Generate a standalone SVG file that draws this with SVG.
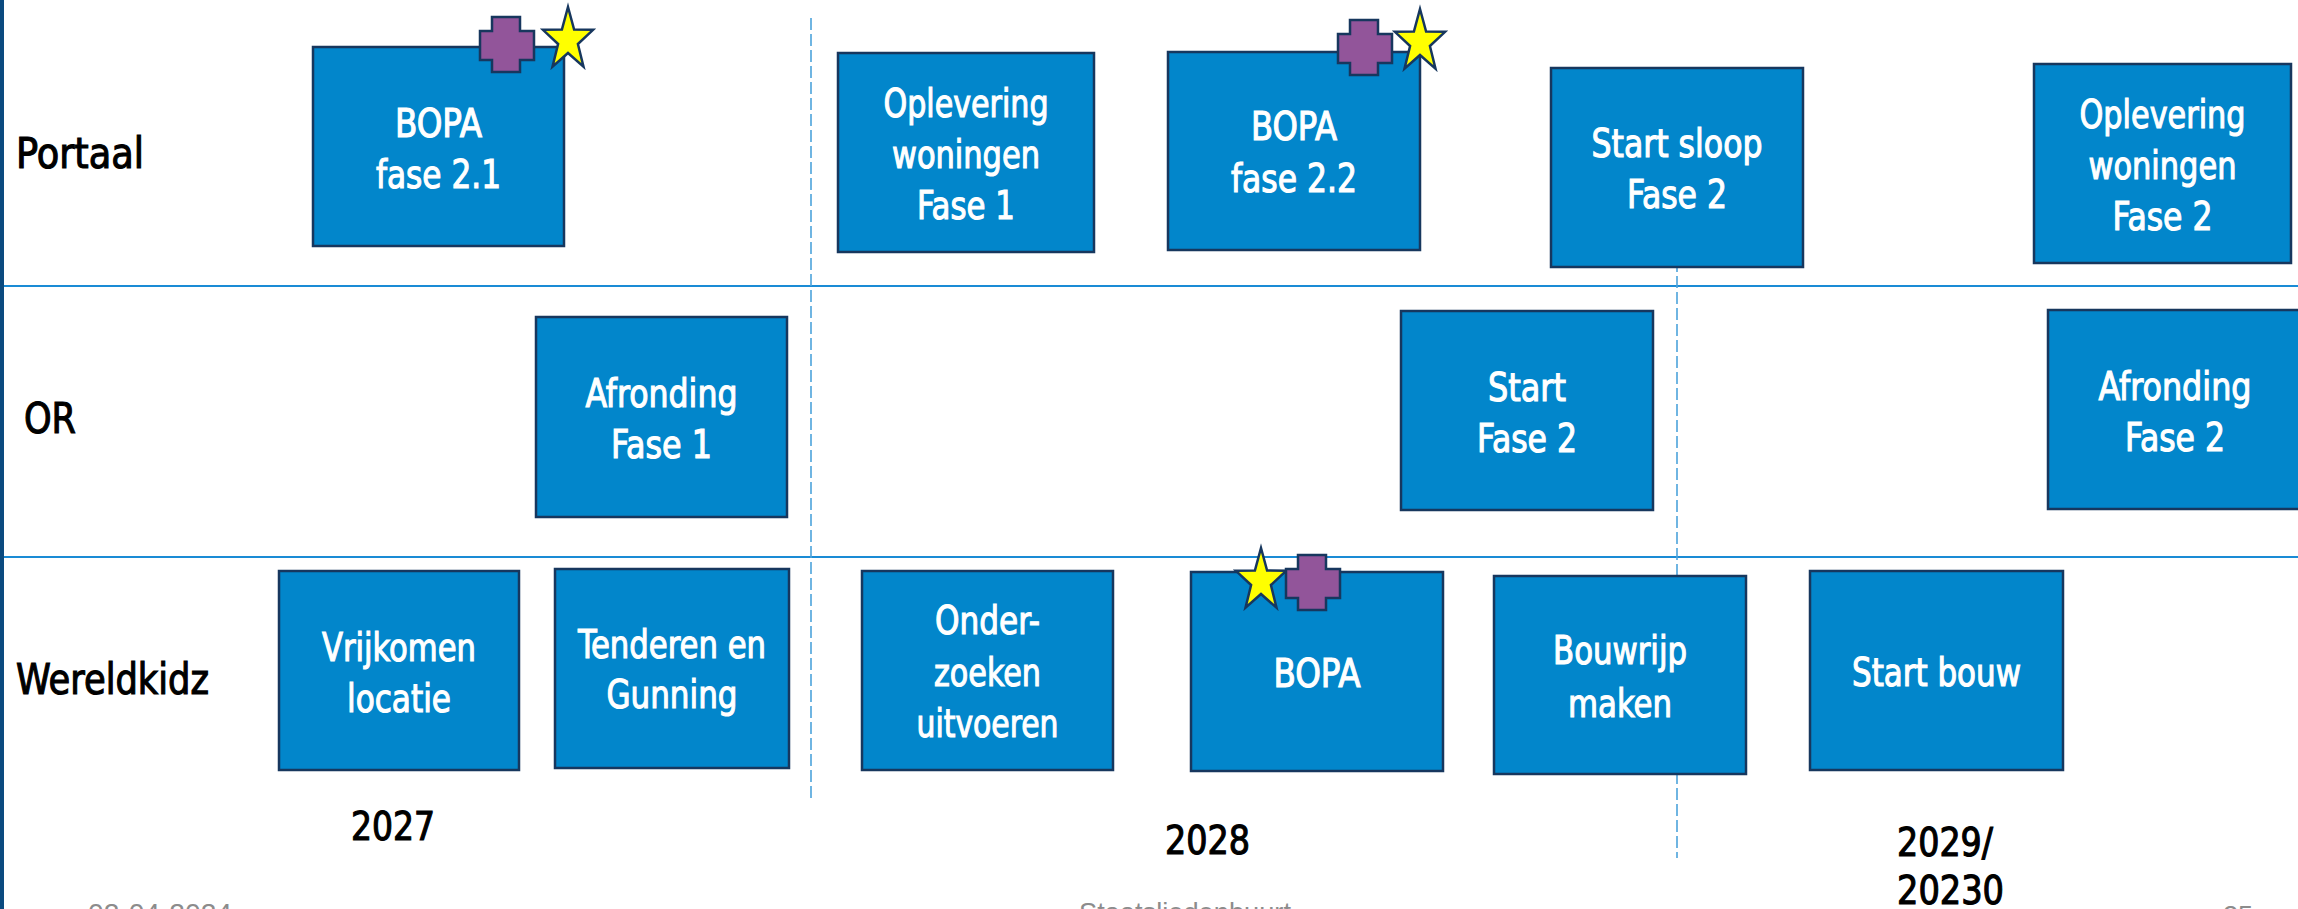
<svg xmlns="http://www.w3.org/2000/svg" width="2298" height="909" viewBox="0 0 2298 909">
<style>
  .box { fill: #0286CB; stroke: #17375E; stroke-width: 2.5; }
  .bt { font-family: 'Liberation Sans Narrow', 'DejaVu Sans Condensed', 'Liberation Sans', sans-serif; font-size: 39px; font-weight: normal; fill: #FFFFFF; stroke: #FFFFFF; stroke-width: 1.1; text-anchor: middle; }
  .lbl { font-family: 'Liberation Sans Narrow', 'DejaVu Sans Condensed', 'Liberation Sans', sans-serif; font-size: 42px; font-weight: normal; fill: #000000; stroke: #000000; stroke-width: 1.1; }
  .yr { font-family: 'Liberation Sans Narrow', 'DejaVu Sans Condensed', 'Liberation Sans', sans-serif; font-size: 39px; font-weight: normal; fill: #000000; stroke: #000000; stroke-width: 1.1; }
  .ft { font-family: 'Liberation Sans', Arial, sans-serif; font-size: 28px; fill: #8C8C8C; }
  .hl { stroke: #1A8BD5; stroke-width: 2; fill: none; }
  .dl { stroke: #4DA3DB; stroke-width: 1.6; stroke-dasharray: 12 4; fill: none; }
  .cross { fill: #92559A; stroke: #17375E; stroke-width: 2.5; }
  .star { fill: #FFFF00; stroke: #17375E; stroke-width: 2.5; stroke-linejoin: miter; }
</style>
<defs>
  <path id="starShape" d="M0,-33 L6.1,-10.5 L25.1,-10.2 L9.9,4 L15.5,26.7 L0,13 L-15.5,26.7 L-9.9,4 L-25.1,-10.2 L-6.1,-10.5 Z"/>
  <path id="crossShape" d="M12,0 H40 V14 H54 V43 H40 V55 H12 V43 H0 V14 H12 Z"/>
</defs>
<rect x="0" y="0" width="2298" height="909" fill="#FFFFFF"/>
<rect x="0" y="0" width="4" height="909" fill="#0B4A7F"/>

<g id="connectors">
  <line class="hl" x1="4" y1="286" x2="2298" y2="286"/>
  <line class="hl" x1="4" y1="557" x2="2298" y2="557"/>
  <line class="dl" x1="811" y1="18" x2="811" y2="802"/>
  <line class="dl" x1="1677" y1="100" x2="1677" y2="858"/>
</g>

<g id="row-labels">
  <text class="lbl" x="16" y="168" textLength="128" lengthAdjust="spacingAndGlyphs">Portaal</text>
  <text class="lbl" x="24" y="433" textLength="52" lengthAdjust="spacingAndGlyphs">OR</text>
  <text class="lbl" x="16" y="694" textLength="193" lengthAdjust="spacingAndGlyphs">Wereldkidz</text>
</g>

<g id="node-bopa-21">
  <rect class="box" x="313" y="47" width="251" height="199"/>
  <text class="bt" x="438.5" y="137" textLength="87" lengthAdjust="spacingAndGlyphs">BOPA</text>
  <text class="bt" x="438.5" y="188" textLength="125" lengthAdjust="spacingAndGlyphs">fase 2.1</text>
  <use href="#crossShape" class="cross" x="480" y="17"/>
  <use href="#starShape" class="star" x="568" y="40"/>
</g>

<g id="node-oplevering-1">
  <rect class="box" x="838" y="53" width="256" height="199"/>
  <text class="bt" x="966" y="117" textLength="165" lengthAdjust="spacingAndGlyphs">Oplevering</text>
  <text class="bt" x="966" y="168" textLength="148" lengthAdjust="spacingAndGlyphs">woningen</text>
  <text class="bt" x="966" y="219" textLength="98" lengthAdjust="spacingAndGlyphs">Fase 1</text>
</g>

<g id="node-bopa-22">
  <rect class="box" x="1168" y="52" width="252" height="198"/>
  <text class="bt" x="1294" y="140" textLength="86" lengthAdjust="spacingAndGlyphs">BOPA</text>
  <text class="bt" x="1294" y="192" textLength="126" lengthAdjust="spacingAndGlyphs">fase 2.2</text>
  <use href="#crossShape" class="cross" x="1338" y="20"/>
  <use href="#starShape" class="star" x="1420" y="42"/>
</g>

<g id="node-start-sloop">
  <rect class="box" x="1551" y="68" width="252" height="199"/>
  <text class="bt" x="1677" y="157" textLength="171" lengthAdjust="spacingAndGlyphs">Start sloop</text>
  <text class="bt" x="1677" y="208" textLength="100" lengthAdjust="spacingAndGlyphs">Fase 2</text>
</g>

<g id="node-oplevering-2">
  <rect class="box" x="2034" y="64" width="257" height="199"/>
  <text class="bt" x="2162.5" y="128" textLength="166" lengthAdjust="spacingAndGlyphs">Oplevering</text>
  <text class="bt" x="2162.5" y="179" textLength="148" lengthAdjust="spacingAndGlyphs">woningen</text>
  <text class="bt" x="2162.5" y="230" textLength="100" lengthAdjust="spacingAndGlyphs">Fase 2</text>
</g>

<g id="node-afronding-1">
  <rect class="box" x="536" y="317" width="251" height="200"/>
  <text class="bt" x="661.5" y="407" textLength="152" lengthAdjust="spacingAndGlyphs">Afronding</text>
  <text class="bt" x="661.5" y="458" textLength="101" lengthAdjust="spacingAndGlyphs">Fase 1</text>
</g>

<g id="node-start-fase-2">
  <rect class="box" x="1401" y="311" width="252" height="199"/>
  <text class="bt" x="1527" y="401" textLength="78" lengthAdjust="spacingAndGlyphs">Start</text>
  <text class="bt" x="1527" y="452" textLength="100" lengthAdjust="spacingAndGlyphs">Fase 2</text>
</g>

<g id="node-afronding-2">
  <rect class="box" x="2048" y="310" width="254" height="199"/>
  <text class="bt" x="2175" y="400" textLength="153" lengthAdjust="spacingAndGlyphs">Afronding</text>
  <text class="bt" x="2175" y="451" textLength="100" lengthAdjust="spacingAndGlyphs">Fase 2</text>
</g>

<g id="node-vrijkomen">
  <rect class="box" x="279" y="571" width="240" height="199"/>
  <text class="bt" x="399" y="661" textLength="154" lengthAdjust="spacingAndGlyphs">Vrijkomen</text>
  <text class="bt" x="399" y="712" textLength="104" lengthAdjust="spacingAndGlyphs">locatie</text>
</g>

<g id="node-tenderen">
  <rect class="box" x="555" y="569" width="234" height="199"/>
  <text class="bt" x="672" y="658" textLength="188" lengthAdjust="spacingAndGlyphs">Tenderen en</text>
  <text class="bt" x="672" y="708" textLength="131" lengthAdjust="spacingAndGlyphs">Gunning</text>
</g>

<g id="node-onderzoeken">
  <rect class="box" x="862" y="571" width="251" height="199"/>
  <text class="bt" x="987.5" y="634" textLength="105" lengthAdjust="spacingAndGlyphs">Onder-</text>
  <text class="bt" x="987.5" y="686" textLength="107" lengthAdjust="spacingAndGlyphs">zoeken</text>
  <text class="bt" x="987.5" y="737" textLength="142" lengthAdjust="spacingAndGlyphs">uitvoeren</text>
</g>

<g id="node-bopa-wk">
  <rect class="box" x="1191" y="572" width="252" height="199"/>
  <text class="bt" x="1317" y="687" textLength="87" lengthAdjust="spacingAndGlyphs">BOPA</text>
  <use href="#starShape" class="star" x="1261" y="581"/>
  <use href="#crossShape" class="cross" x="1286" y="555"/>
</g>

<g id="node-bouwrijp">
  <rect class="box" x="1494" y="576" width="252" height="198"/>
  <text class="bt" x="1620" y="664" textLength="134" lengthAdjust="spacingAndGlyphs">Bouwrijp</text>
  <text class="bt" x="1620" y="717" textLength="104" lengthAdjust="spacingAndGlyphs">maken</text>
</g>

<g id="node-start-bouw">
  <rect class="box" x="1810" y="571" width="253" height="199"/>
  <text class="bt" x="1936.5" y="686" textLength="169" lengthAdjust="spacingAndGlyphs">Start bouw</text>
</g>

<g id="years">
  <text class="yr" x="351" y="840" textLength="84" lengthAdjust="spacingAndGlyphs">2027</text>
  <text class="yr" x="1165" y="854" textLength="85" lengthAdjust="spacingAndGlyphs">2028</text>
  <text class="yr" x="1897" y="856" textLength="96" lengthAdjust="spacingAndGlyphs">2029/</text>
  <text class="yr" x="1897" y="904" textLength="107" lengthAdjust="spacingAndGlyphs">20230</text>
</g>

<g id="footer">
  <text class="ft" x="88" y="923" textLength="144" lengthAdjust="spacingAndGlyphs">02-04-2024</text>
  <text class="ft" x="1079" y="922" textLength="212" lengthAdjust="spacingAndGlyphs">Staatsliedenbuurt</text>
  <text class="ft" x="2223" y="925" textLength="30" lengthAdjust="spacingAndGlyphs">25</text>
</g>
</svg>
